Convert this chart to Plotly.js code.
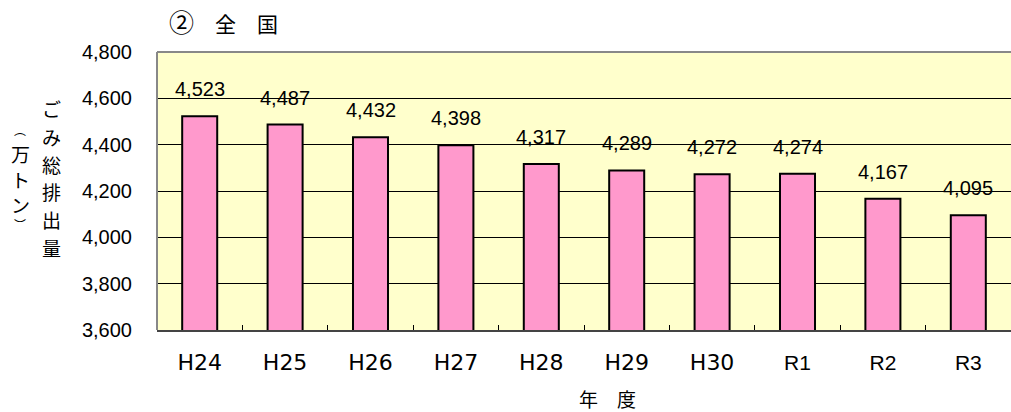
<!DOCTYPE html>
<html><head><meta charset="utf-8">
<script src="https://cdn.plot.ly/plotly-3.0.1.min.js"></script>
<style>html,body{margin:0;padding:0;background:#fff}#c{width:1011px;height:412px}</style>
</head><body><div id="c"></div>
<script>
const years = ["H24","H25","H26","H27","H28","H29","H30","R1","R2","R3"];
const totals = [4523,4487,4432,4398,4317,4289,4272,4274,4167,4095];
const yTicks = [3600,3800,4000,4200,4400,4600,4800];
const titleText = '<span style="font-size:25px">②</span>\u3000全\u3000国';
const xTitle = "年\u3000度";
const yTitleMain = "ごみ総排出量";
const yTitleUnit = "︵万トン︶";

const fmt = v => v.toLocaleString("en-US");
const tickText = years.map(y => y.startsWith("R")
  ? '<span style="font-family:Liberation Sans, Arial, sans-serif;font-size:21px">' + y + '</span>' : y);
const annotations = years.map((c,i)=>({
  x:c, y:totals[i], xref:"x", yref:"y", text:fmt(totals[i]), showarrow:false,
  yshift:27, font:{family:"Liberation Sans, Arial, sans-serif", size:20, color:"#000"}
}));
annotations.push({xref:"paper", yref:"paper", x:0.078, y:1.11, xanchor:"center", yanchor:"middle",
  text:titleText, showarrow:false, font:{family:"Noto Sans CJK JP", size:21, color:"#000"}});
annotations.push({xref:"paper", yref:"paper", x:0.527, y:-0.245, xanchor:"center", yanchor:"middle",
  text:xTitle, showarrow:false, font:{family:"Noto Sans CJK JP", size:19, color:"#000"}});
[...yTitleMain].forEach((ch,i)=>annotations.push({xref:"paper", yref:"paper",
  x:-0.124, y:0.797-i*0.1, xanchor:"center", yanchor:"middle", text:ch, showarrow:false,
  font:{family:"Noto Sans CJK JP", size:19, color:"#000"}}));
const unitY = [0.722, 0.635, 0.54, 0.453, 0.378];
const unitSize = [12, 19, 19, 19, 12];
[...yTitleUnit].forEach((ch,i)=>annotations.push({xref:"paper", yref:"paper",
  x:-0.16, y:unitY[i], xanchor:"center", yanchor:"middle", text:ch, showarrow:false,
  font:{family:"Noto Sans CJK JP", size:unitSize[i], color:"#000"}}));

Plotly.newPlot("c",[{
  type:"bar", x:years, y:totals, width:0.41,
  marker:{color:"#FF99CC", line:{color:"#000", width:2}},
  hoverinfo:"none"
}],{
  width:1011, height:412,
  margin:{l:157, r:0, t:52, b:82},
  paper_bgcolor:"#fff", plot_bgcolor:"#FFFFCC",
  showlegend:false,
  xaxis:{type:"category", tickson:"boundaries", ticks:"inside", ticklen:5, tickcolor:"#000",
    tickvals:years, ticktext:tickText,
    showline:true, linecolor:"#444", linewidth:2, showgrid:false,
    tickfont:{family:"DejaVu Sans, sans-serif", size:22, color:"#000"}, ticklabelstandoff:12},
  yaxis:{range:[3600,4800], tickvals:yTicks, ticktext:yTicks.map(fmt), showgrid:true,
    gridcolor:"#000", gridwidth:1, zeroline:false, showline:false, ticks:"",
    tickfont:{family:"Liberation Sans, Arial, sans-serif", size:20, color:"#000"}, ticklabelstandoff:24},
  shapes:[
    {type:"line", xref:"paper", yref:"paper", x0:0, x1:0, y0:0, y1:1, line:{color:"#888", width:2}},
    {type:"line", xref:"paper", yref:"paper", x0:0, x1:1, y0:1, y1:1, line:{color:"#888", width:2}}
  ],
  annotations:annotations
},{displayModeBar:false, staticPlot:true});
</script></body></html>
